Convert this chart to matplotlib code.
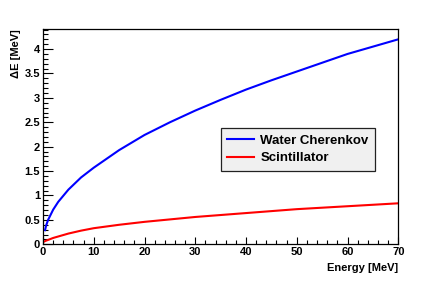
import matplotlib
matplotlib.use('Agg')
import matplotlib.pyplot as plt
from matplotlib.ticker import MultipleLocator

plt.rcParams['font.family'] = ['Liberation Sans', 'DejaVu Sans']
plt.rcParams['font.weight'] = 'bold'

# energy points [MeV]
e_water = [0.4, 0.6, 1, 2, 3, 5, 7.5, 10, 15, 20, 25, 30, 35, 40, 45, 50, 55, 60, 65, 70]
water = [0.29, 0.38, 0.50, 0.71, 0.87, 1.12, 1.37, 1.57, 1.93, 2.24, 2.50, 2.74,
         2.96, 3.17, 3.36, 3.54, 3.72, 3.90, 4.05, 4.20]
e_scint = [0.1, 0.5, 1, 2, 3, 5, 7.5, 10, 15, 20, 25, 30, 35, 40, 45, 50, 55, 60, 65, 70]
scint = [0.05, 0.07, 0.09, 0.13, 0.16, 0.22, 0.28, 0.33, 0.40, 0.46, 0.51, 0.56,
         0.60, 0.64, 0.68, 0.72, 0.75, 0.78, 0.81, 0.84]
names = ['Water Cherenkov', 'Scintillator']
colr = ['#0000ff', '#ff0000']

fig = plt.figure(figsize=(4.43, 2.85), dpi=100)
ax = fig.add_axes([0.0971, 0.1428, 0.8019, 0.7552])

ax.plot(e_water, water, color=colr[0], lw=1.5, label=names[0])
ax.plot(e_scint, scint, color=colr[1], lw=1.5, label=names[1])

ax.set_xlim(0, 70)
ax.set_ylim(0, 4.41)
ax.xaxis.set_major_locator(MultipleLocator(10))
ax.xaxis.set_minor_locator(MultipleLocator(2))
ax.yaxis.set_major_locator(MultipleLocator(0.5))
ax.yaxis.set_minor_locator(MultipleLocator(0.1))
ax.yaxis.set_major_formatter(plt.FuncFormatter(lambda v, p: '%g' % v))

ax.tick_params(axis='both', which='both', direction='in', labelsize=8, width=0.8)
ax.tick_params(axis='x', which='major', length=5, pad=2)
ax.tick_params(axis='x', which='minor', length=2.8)
ax.tick_params(axis='y', which='major', length=7.2, pad=2)
ax.tick_params(axis='y', which='minor', length=3.6)
for s in ax.spines.values():
    s.set_linewidth(0.9)

ax.set_xlabel('Energy [MeV]', fontsize=8, fontweight='bold')
ax.xaxis.set_label_coords(1.0, -0.085)
ax.xaxis.label.set_horizontalalignment('right')
ax.set_ylabel('\u0394E [MeV]', fontsize=8, fontweight='bold')
ax.yaxis.set_label_coords(-0.075, 1.0)
ax.yaxis.label.set_verticalalignment('center')
ax.yaxis.label.set_horizontalalignment('right')

leg = ax.legend(loc='upper left', bbox_to_anchor=(221 / 443, 1 - 128 / 285),
                bbox_transform=fig.transFigure, borderaxespad=0,
                fancybox=False, framealpha=1, facecolor='#f0f0f0', edgecolor='#222222',
                prop={'size': 9.5, 'weight': 'bold'}, handlelength=2.05,
                handletextpad=0.45, labelspacing=0.42, borderpad=0.48)
leg.get_frame().set_linewidth(0.9)

fig.savefig('out.png', dpi=100)
